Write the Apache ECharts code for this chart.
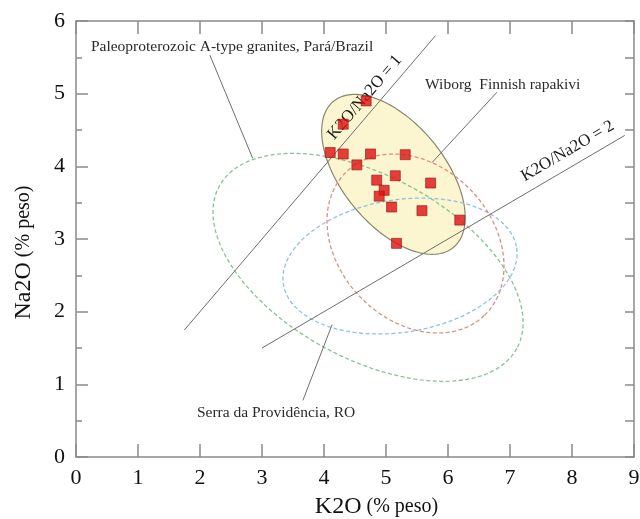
<!DOCTYPE html>
<html>
<head>
<meta charset="utf-8">
<script src="https://cdn.jsdelivr.net/npm/echarts@6/dist/echarts.min.js"></script>
<style>
  html, body { margin: 0; padding: 0; background: #fff; }
  #chart { width: 640px; height: 519px; }
</style>
</head>
<body>
<div id="chart"></div>
<script>
// Axis ranges
const xMin = 0, xMax = 9;
const yMin = 0, yMax = 6;

// Samples: K2O and Na2O (% peso)
const k2o = [4.68, 4.31, 4.10, 4.31, 4.75, 5.31, 4.53, 4.85, 5.15, 5.72, 4.97, 4.89, 5.09, 5.58, 6.19, 5.17];
const na2o = [4.90, 4.58, 4.19, 4.17, 4.17, 4.16, 4.02, 3.81, 3.87, 3.77, 3.67, 3.59, 3.44, 3.39, 3.26, 2.94];

// Compositional fields: centre and two conjugate semi-axis vectors (data units)
const fieldNames   = ['Samples field', 'Paleoproterozoic A-type', 'Serra da Providência', 'Wiborg'];
const fieldCentres = [[5.12, 3.89], [4.71, 2.61], [5.226, 2.628], [5.476, 2.938]];
const fieldAxisU   = [[0.966, -1.006], [2.40, -1.116], [1.881, 0.250], [1.110, -0.991]];
const fieldAxisV   = [[-0.638, -0.446], [-0.705, -1.102], [0.165, -0.901], [-0.897, -0.731]];
const fieldStroke  = ['#8a8670', '#86c48e', '#8fc0e6', '#df8e7e'];
const fieldFill    = ['#fcf6d0', null, null, null];
const fieldDashed  = [false, true, true, true];

// Reference ratio lines K2O/Na2O = r, drawn over a K2O range
const ratioValues = [1, 2];
const ratioFrom   = [1.75, 3.0];
const ratioTo     = [5.8, 8.85];
const ratioLabels = ['K2O/Na2O = 1', 'K2O/Na2O = 2'];
const ratioLabelAt = [[4.66, 4.95], [7.93, 4.21]];

// Field annotations with leader lines
const noteTexts = ['Paleoproterozoic A-type granites, Pará/Brazil', 'Wiborg  Finnish rapakivi', 'Serra da Providência, RO'];
const noteAt    = [[0.24, 5.64], [5.63, 5.12], [1.95, 0.61]];
const leaderFrom = [[2.16, 5.53], [6.79, 5.02], [3.66, 0.78]];
const leaderTo   = [[2.85, 4.11], [5.74, 4.05], [4.13, 1.82]];

const serif = '"Liberation Serif", "DejaVu Serif", serif';
const axisGrey = '#8a8a8a';

const chart = echarts.init(document.getElementById('chart'), null, { renderer: 'canvas' });

function ellipseSeries(i) {
  return {
    type: 'custom',
    name: fieldNames[i],
    silent: true,
    z: i === 0 ? 1 : 2,
    encode: { x: 0, y: 1 },
    data: [[fieldCentres[i][0], fieldCentres[i][1]]],
    renderItem: function (params, api) {
      const c = fieldCentres[i], u = fieldAxisU[i], v = fieldAxisV[i];
      const pts = [];
      const n = 180;
      for (let k = 0; k < n; k++) {
        const t = (k / n) * Math.PI * 2;
        const x = c[0] + u[0] * Math.cos(t) + v[0] * Math.sin(t);
        const y = c[1] + u[1] * Math.cos(t) + v[1] * Math.sin(t);
        pts.push(api.coord([x, y]));
      }
      return {
        type: 'polygon',
        shape: { points: pts },
        style: {
          fill: fieldFill[i] || 'none',
          stroke: fieldStroke[i],
          lineWidth: fieldDashed[i] ? 1.3 : 1.2,
          lineDash: fieldDashed[i] ? [4, 2.5] : null
        }
      };
    }
  };
}

const series = [];
for (let i = 0; i < fieldNames.length; i++) series.push(ellipseSeries(i));

// Ratio lines: Na2O = K2O / r
for (let i = 0; i < ratioValues.length; i++) {
  series.push({
    type: 'line',
    silent: true,
    z: 3,
    symbol: 'none',
    lineStyle: { color: '#6e6e6e', width: 1 },
    data: [[ratioFrom[i], ratioFrom[i] / ratioValues[i]], [ratioTo[i], ratioTo[i] / ratioValues[i]]]
  });
}

// Leader lines
for (let i = 0; i < leaderFrom.length; i++) {
  series.push({
    type: 'line',
    silent: true,
    z: 3,
    symbol: 'none',
    lineStyle: { color: '#6e6e6e', width: 1 },
    data: [leaderFrom[i], leaderTo[i]]
  });
}

// Ratio line labels, rotated along the lines
series.push({
  type: 'custom',
  silent: true,
  z: 4,
  encode: { x: 0, y: 1 },
  data: ratioLabelAt,
  renderItem: function (params, api) {
    const i = params.dataIndex;
    const p = api.coord([api.value(0), api.value(1)]);
    // screen angle of the line Na2O = K2O/r
    const a0 = api.coord([ratioFrom[i], ratioFrom[i] / ratioValues[i]]);
    const a1 = api.coord([ratioTo[i], ratioTo[i] / ratioValues[i]]);
    const ang = Math.atan2(a0[1] - a1[1], a1[0] - a0[0]);
    return {
      type: 'text',
      x: p[0], y: p[1],
      rotation: ang,
      style: {
        text: ratioLabels[i],
        fontSize: 17,
        fontFamily: serif,
        fill: '#1a1a1a',
        align: 'center',
        verticalAlign: 'middle'
      }
    };
  }
});

// Field annotations
series.push({
  type: 'custom',
  silent: true,
  z: 4,
  encode: { x: 0, y: 1 },
  data: noteAt,
  renderItem: function (params, api) {
    const i = params.dataIndex;
    const p = api.coord([api.value(0), api.value(1)]);
    return {
      type: 'text',
      x: p[0], y: p[1],
      style: {
        text: noteTexts[i],
        fontSize: 15.5,
        fontFamily: serif,
        fill: '#2a2a2a',
        align: 'left',
        verticalAlign: 'middle'
      }
    };
  }
});

// Samples
series.push({
  type: 'scatter',
  z: 5,
  symbol: 'rect',
  symbolSize: 10,
  itemStyle: { color: '#e01010', borderColor: '#8a1a1a', borderWidth: 0.8 },
  data: k2o.map((x, i) => [x, na2o[i]])
});

function frameAxisLine() {
  return { onZero: false, lineStyle: { color: axisGrey, width: 1.5 } };
}

const option = {
  animation: false,
  backgroundColor: '#ffffff',
  grid: { left: 76, right: 6, top: 21, bottom: 62, containLabel: false, outerBoundsMode: 'none' },
  xAxis: [
    {
      type: 'value', min: xMin, max: xMax, interval: 1, position: 'bottom',
      axisLine: frameAxisLine(),
      axisTick: { inside: true, length: 13, lineStyle: { color: axisGrey, width: 1.5 } },
      axisLabel: { fontSize: 22, fontFamily: serif, color: '#111', margin: 10 },
      splitLine: { show: false },
      name: '{a|K2O}{b| (% peso)}',
      nameLocation: 'middle',
      nameGap: 38,
      nameTextStyle: {
        padding: [0, 0, 0, 43],
        rich: {
          a: { fontSize: 24, fontFamily: serif, color: '#111' },
          b: { fontSize: 20, fontFamily: serif, color: '#111' }
        }
      }
    },
    {
      type: 'value', min: xMin, max: xMax, interval: 1, position: 'top',
      axisLine: frameAxisLine(),
      axisTick: { inside: true, length: 13, lineStyle: { color: axisGrey, width: 1.5 } },
      axisLabel: { show: false },
      splitLine: { show: false }
    }
  ],
  yAxis: [
    {
      type: 'value', min: yMin, max: yMax, interval: 1, position: 'left',
      axisLine: frameAxisLine(),
      axisTick: { inside: true, length: 12, lineStyle: { color: axisGrey, width: 1.5 } },
      minorTick: { show: true, splitNumber: 2, length: 6, lineStyle: { color: axisGrey, width: 1.5 } },
      axisLabel: { fontSize: 22, fontFamily: serif, color: '#111', margin: 11 },
      splitLine: { show: false },
      name: '{a|Na2O}{b| (% peso)}',
      nameLocation: 'middle',
      nameGap: 40,
      nameRotate: 90,
      nameTextStyle: {
        padding: [0, 27, 0, 0],
        rich: {
          a: { fontSize: 24, fontFamily: serif, color: '#111' },
          b: { fontSize: 20, fontFamily: serif, color: '#111' }
        }
      }
    },
    {
      type: 'value', min: yMin, max: yMax, interval: 0.5, position: 'right',
      axisLine: frameAxisLine(),
      axisTick: { inside: true, length: 9, lineStyle: { color: axisGrey, width: 1.5 } },
      axisLabel: { show: false },
      splitLine: { show: false }
    }
  ],
  series: series
};

chart.setOption(option);
</script>
</body>
</html>
